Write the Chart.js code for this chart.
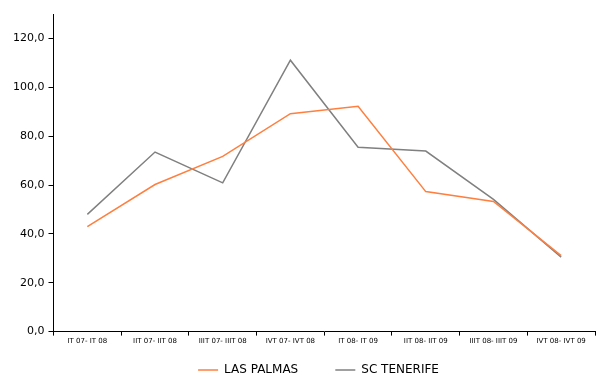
<!DOCTYPE html>
<html>
<head>
<meta charset="utf-8">
<script src="https://cdn.jsdelivr.net/npm/chart.js@4"></script>
<style>
  html, body { margin: 0; padding: 0; background: #fff; }
  #wrap { width: 596px; height: 376px; }
</style>
</head>
<body>
<div id="wrap"><canvas id="myChart"></canvas></div>
<script>
const labels = ["IT 07- IT 08", "IIT 07- IIT 08", "IIIT 07- IIIT 08", "IVT 07- IVT 08",
  "IT 08- IT 09", "IIT 08- IIT 09", "IIIT 08- IIIT 09", "IVT 08- IVT 09"];
const lasPalmas = [43.0, 60.2, 71.7, 89.2, 92.2, 57.3, 53.3, 31.1];
const scTenerife = [48.0, 73.5, 60.9, 111.1, 75.5, 73.9, 54.1, 30.5];

const ctx = document.getElementById("myChart").getContext("2d");
const myChart = new Chart(ctx, {
  type: "line",
  data: {
    labels: labels,
    datasets: [
      {
        label: "LAS PALMAS",
        data: lasPalmas,
        borderColor: "#ff7f3f",
        backgroundColor: "#ff7f3f",
        borderWidth: 1.5,
        pointRadius: 0,
        tension: 0,
      },
      {
        label: "SC TENERIFE",
        data: scTenerife,
        borderColor: "#808080",
        backgroundColor: "#808080",
        borderWidth: 1.5,
        pointRadius: 0,
        tension: 0,
      },
    ],
  },
  options: {
    responsive: true,
    maintainAspectRatio: false,
    animation: false,
    layout: { padding: { left: 9, right: 1, top: 14, bottom: -10 } },
    scales: {
      x: {
        offset: true,
        grid: { offset: true, drawOnChartArea: false, drawTicks: true, tickLength: 4, color: "#000" },
        border: { display: true, color: "#000", width: 1 },
        ticks: {
          color: "#000",
          font: { family: "DejaVu Sans", size: 7 },
          maxRotation: 0,
          autoSkip: false,
          padding: 1,
        },
      },
      y: {
        min: 0,
        max: 130,
        grid: { drawOnChartArea: false, drawTicks: true, tickLength: 5, color: "#000" },
        border: { display: true, color: "#000", width: 1 },
        afterBuildTicks: (axis) => {
          axis.ticks = axis.ticks.filter((t) => t.value % 20 === 0);
        },
        ticks: {
          stepSize: 20,
          color: "#000",
          font: { family: "DejaVu Sans", size: 11 },
          padding: 4,
          callback: (v) => v.toFixed(1).replace(".", ","),
        },
      },
    },
    plugins: {
      legend: {
        position: "bottom",
        fullSize: false,
        labels: {
          color: "#000",
          font: { family: "DejaVu Sans", size: 12 },
          usePointStyle: true,
          pointStyle: "line",
          pointStyleWidth: 20,
          boxWidth: 20,
          padding: 18,
          generateLabels: (chart) => {
            const items = Chart.defaults.plugins.legend.labels.generateLabels(chart);
            // widen the gap between the two entries, nudge the row left a bit
            items[0].text = items[0].text + "     ";
            items[1].text = items[1].text + "   ";
            return items;
          },
        },
      },
      tooltip: { enabled: false },
    },
  },
});
</script>
</body>
</html>
